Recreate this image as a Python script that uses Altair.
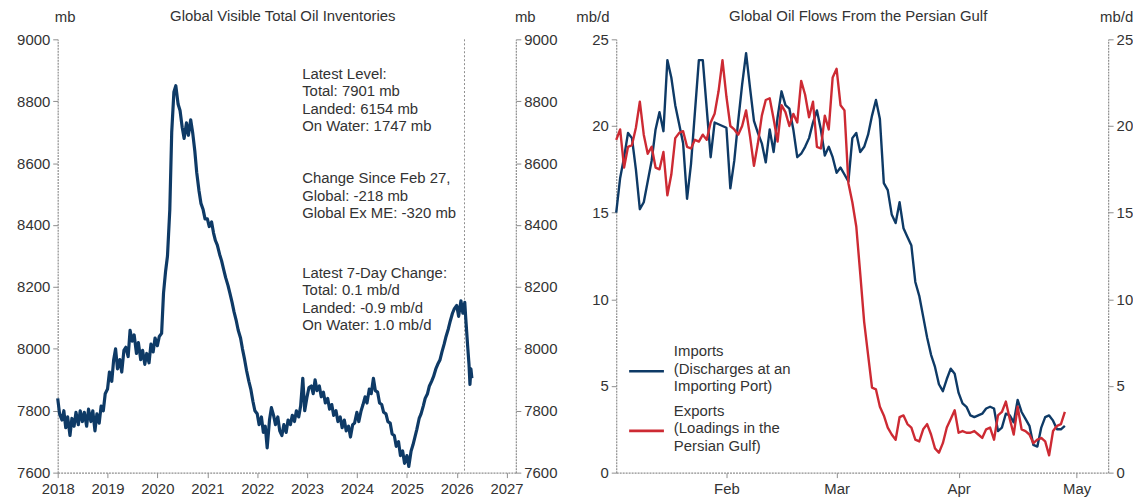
import altair as alt
import pandas as pd

FONT = "Liberation Sans"
NAVY = "#0e3a66"
RED = "#cd2a33"
GREY = "#8e8e8e"
TXT = "#333333"

# ---------------- Left panel: Global visible total oil inventories (mb) ----------------
# semi-monthly readings (1st and 15th of each month)
inv_2018 = [7840, 7790, 7770, 7800, 7745, 7780, 7720, 7775, 7750, 7795, 7755, 7800,
            7765, 7795, 7750, 7805, 7765, 7800, 7735, 7790, 7760, 7815, 7800, 7855]
inv_2019 = [7870, 7925, 7895, 7965, 8000, 7935, 7965, 7925, 7995, 8005, 7975, 8060,
            8025, 8045, 7985, 8020, 7965, 7995, 7950, 7985, 7955, 8015, 7990, 8035]
inv_2020 = [8010, 8040, 8050, 8180, 8250, 8300, 8450, 8700, 8830, 8850, 8790, 8770,
            8715, 8680, 8730, 8690, 8740, 8700, 8640, 8570, 8510, 8470, 8450, 8420]
inv_2021 = [8420, 8395, 8410, 8375, 8350, 8335, 8305, 8285, 8255, 8230, 8205, 8180,
            8150, 8120, 8090, 8060, 8035, 8000, 7965, 7930, 7895, 7870, 7830, 7800]
inv_2022 = [7790, 7755, 7780, 7730, 7750, 7680, 7770, 7810, 7785, 7755, 7780, 7735,
            7720, 7755, 7730, 7770, 7755, 7785, 7765, 7800, 7780, 7815, 7905, 7800]
inv_2023 = [7845, 7875, 7880, 7855, 7900, 7865, 7880, 7845, 7860, 7825, 7840, 7805,
            7820, 7785, 7800, 7765, 7780, 7745, 7770, 7735, 7750, 7715, 7755, 7760]
inv_2024 = [7795, 7765, 7800, 7820, 7845, 7825, 7870, 7855, 7905, 7865, 7860, 7825,
            7820, 7795, 7790, 7765, 7760, 7725, 7720, 7685, 7700, 7655, 7670, 7630]
inv_2025 = [7655, 7620, 7670, 7690, 7715, 7740, 7775, 7790, 7815, 7840, 7855, 7880,
            7895, 7910, 7935, 7950, 7965, 7990, 8015, 8040, 8065, 8090, 8115, 8130]
inv_2026_dates = ["2026-01-01", "2026-01-15", "2026-02-01", "2026-02-15", "2026-03-01",
                  "2026-03-08", "2026-03-15", "2026-03-22", "2026-04-01", "2026-04-08",
                  "2026-04-15", "2026-04-22"]
inv_2026 = [8140, 8105, 8155, 8115, 8150, 8100, 8055, 8010, 7950, 7885, 7935, 7905]

marker_date = ["2026-02-27"]
inv_years = list(range(2018, 2028))
inv_ticks = list(range(7600, 9001, 200))

ann_level = ["Latest Level:", "Total: 7901 mb", "Landed: 6154 mb", "On Water: 1747 mb"]
ann_change = ["Change Since Feb 27,", "Global: -218 mb", "Global Ex ME: -320 mb"]
ann_7day = ["Latest 7-Day Change:", "Total: 0.1 mb/d", "Landed: -0.9 mb/d", "On Water: 1.0 mb/d"]

# ---------------- Right panel: Global oil flows from the Persian Gulf (mb/d) ----------------
flow_start = "2026-01-04"
imports_jan = [15.0, 17.0, 18.2, 19.6, 19.3, 17.5, 15.2, 15.6, 16.8, 18.0, 19.8, 20.8, 19.7, 23.8,
               22.8, 21.2, 20.1, 19.0, 15.8, 17.8, 20.8, 23.8, 23.8, 21.0, 18.2, 20.2, 20.1, 20.0]
imports_feb = [19.9, 16.4, 18.0, 20.3, 22.4, 24.2, 22.2, 20.3, 19.6, 19.0, 17.9, 19.8, 18.5, 20.5,
               22.0, 21.2, 21.0, 19.8, 18.2, 18.4, 18.8, 19.3, 20.2, 20.9, 19.8, 18.3, 18.8, 18.2]
imports_mar = [17.3, 17.6, 17.2, 16.8, 19.3, 19.6, 18.5, 18.8, 19.5, 20.6, 21.5, 20.4, 16.7, 16.3,
               14.9, 14.4, 15.6, 14.1, 13.6, 13.1, 11.0, 10.2, 9.0, 7.8, 6.8, 6.1, 5.1, 4.7, 5.4,
               6.0, 5.7]
imports_apr = [4.6, 4.0, 3.8, 3.3, 3.2, 3.3, 3.4, 3.7, 3.8, 3.7, 2.4, 2.6, 3.4, 3.3, 2.9, 4.2,
               3.5, 3.1, 2.7, 1.6, 1.5, 2.6, 3.2, 3.3, 3.0, 2.5, 2.5, 2.7]
exports_jan = [19.2, 19.8, 17.6, 18.8, 18.9, 19.9, 21.4, 19.5, 18.4, 18.8, 17.6, 17.5, 18.5, 16.0,
               17.2, 19.3, 19.6, 19.7, 18.8, 18.7, 19.2, 19.1, 19.5, 19.2, 20.2, 20.7, 22.0, 23.8]
exports_feb = [21.7, 20.0, 19.8, 19.5, 20.0, 20.9, 19.4, 17.7, 19.0, 20.6, 21.5, 21.6, 20.4, 19.1,
               21.2, 20.8, 20.0, 20.7, 20.2, 22.6, 21.8, 20.5, 21.4, 18.8, 18.7, 20.6, 19.8, 22.8]
exports_mar = [23.3, 21.2, 20.9, 16.7, 15.6, 14.2, 11.5, 8.7, 6.8, 4.9, 4.8, 3.8, 3.3, 2.6, 2.2,
               1.9, 3.2, 3.3, 2.8, 2.6, 1.9, 1.8, 2.5, 2.8, 2.2, 1.4, 1.15, 1.7, 2.6, 3.1, 3.6]
exports_apr = [2.3, 2.4, 2.3, 2.3, 2.4, 2.2, 2.0, 2.5, 2.6, 1.9, 3.3, 3.5, 4.1, 3.1, 2.2, 3.8,
               2.5, 2.4, 2.2, 1.7, 1.9, 2.0, 1.8, 1.0, 2.4, 2.7, 2.8, 3.5]
series_names = ["Imports", "Exports"]
legend_texts = [["Imports", "(Discharges at an", "Importing Port)"],
                ["Exports", "(Loadings in the", "Persian Gulf)"]]
flow_months = [2, 3, 4, 5]
flow_ticks = [0, 5, 10, 15, 20, 25]

# ---------------- tables ----------------
semi = pd.date_range("2018-01-01", periods=192, freq="SMS")
inv_dates = [d.strftime("%Y-%m-%dT00:00:00") for d in semi] + [d + "T00:00:00" for d in inv_2026_dates]
inv_vals = inv_2018 + inv_2019 + inv_2020 + inv_2021 + inv_2022 + inv_2023 + inv_2024 + inv_2025 + inv_2026
inv_df = pd.DataFrame({"date": inv_dates, "value": inv_vals})
mark_df = pd.DataFrame({"date": [d + "T00:00:00" for d in marker_date]})

imports = imports_jan + imports_feb + imports_mar + imports_apr
exports = exports_jan + exports_feb + exports_mar + exports_apr
fd = [d.strftime("%Y-%m-%dT00:00:00") for d in pd.date_range(flow_start, periods=len(imports), freq="D")]
flows_df = pd.DataFrame({
    "date": fd + fd,
    "value": imports + exports,
    "series": [series_names[0]] * len(imports) + [series_names[1]] * len(exports),
})

LW, LH = 461, 436
RW, RH = 495, 436


def dt(y, m, d):
    return alt.DateTime(year=y, month=m, date=d)


def yaxis(orient, title, tx, vals):
    return alt.Axis(orient=orient, values=vals, format="d", title=title, titleAngle=0, titleX=tx,
                    titleY=-23, titleAlign="center", titleBaseline="middle", labelPadding=3, grid=False)


def text_layer(lines, px, py):
    return alt.Chart(pd.DataFrame({"t": ["\n".join(lines)]})).mark_text(
        align="left", baseline="top", lineBreak="\n", font=FONT, fontSize=15, color=TXT, lineHeight=17.5
    ).encode(x=alt.value(px), y=alt.value(py), text="t:N")


def title_layer(txt, w):
    return alt.Chart(pd.DataFrame({"t": [txt]})).mark_text(
        align="center", baseline="middle", font=FONT, fontSize=15, color=TXT
    ).encode(x=alt.value(w / 2 - 4), y=alt.value(-23), text="t:N")


# ---------------- left chart ----------------
xl = alt.X("date:T", title=None,
           scale=alt.Scale(domain=[dt(2018, 1, 1), dt(2027, 3, 10)]),
           axis=alt.Axis(values=[dt(y, 1, 1) for y in inv_years], format="%Y", labelPadding=4,
                         labelFlush=False, grid=False))
yl_scale = alt.Scale(domain=[7600, 9000], nice=False, zero=False)

inv_line = alt.Chart(inv_df).mark_line(color=NAVY, strokeWidth=3.2, strokeJoin="round").encode(
    x=xl, y=alt.Y("value:Q", scale=yl_scale, axis=yaxis("left", "mb", 7, inv_ticks)))
inv_right = alt.Chart(inv_df).mark_line(strokeOpacity=0).encode(
    x=xl, y=alt.Y("value:Q", scale=yl_scale, axis=yaxis("right", "mb", 9, inv_ticks)))
inv_rule = alt.Chart(mark_df).mark_rule(color=GREY, strokeDash=[2, 2], strokeWidth=1).encode(x=xl)

left = alt.layer(
    inv_rule, inv_line, inv_right,
    text_layer(ann_level, 246, 28),
    text_layer(ann_change, 246, 133),
    text_layer(ann_7day, 246, 228),
    title_layer("Global Visible Total Oil Inventories", LW),
).resolve_axis(y="independent").properties(width=LW, height=LH)

# ---------------- right chart ----------------
xr = alt.X("date:T", title=None,
           scale=alt.Scale(domain=[dt(2026, 1, 4), dt(2026, 5, 9)]),
           axis=alt.Axis(values=[dt(2026, m, 1) for m in flow_months], format="%b", labelPadding=4,
                         labelFlush=False, grid=False))
yr_scale = alt.Scale(domain=[0, 25], nice=False)
col = alt.Color("series:N", scale=alt.Scale(domain=series_names, range=[NAVY, RED]), legend=None)

flow_lines = alt.Chart(flows_df).mark_line(strokeWidth=2.4, strokeJoin="round").encode(
    x=xr, y=alt.Y("value:Q", scale=yr_scale, axis=yaxis("left", "mb/d", -24, flow_ticks)),
    color=col, order=alt.Order("series:N", sort="descending"))
flow_right = alt.Chart(flows_df).mark_line(strokeOpacity=0).encode(
    x=xr, y=alt.Y("value:Q", scale=yr_scale, axis=yaxis("right", "mb/d", 8, flow_ticks)),
    detail="series:N")

leg_df = pd.DataFrame({"series": series_names})
leg_imp = alt.Chart(leg_df.iloc[[0]]).mark_rule(strokeWidth=2.6).encode(
    x=alt.value(13), x2=alt.value(48), y=alt.value(334), color=col)
leg_exp = alt.Chart(leg_df.iloc[[1]]).mark_rule(strokeWidth=2.6).encode(
    x=alt.value(13), x2=alt.value(48), y=alt.value(394), color=col)

right = alt.layer(
    flow_lines, flow_right, leg_imp, leg_exp,
    text_layer(legend_texts[0], 58, 307),
    text_layer(legend_texts[1], 58, 367),
    title_layer("Global Oil Flows From the Persian Gulf", RW),
).resolve_axis(y="independent").properties(width=RW, height=RH)

chart = alt.hconcat(left, right, spacing=18).properties(
    padding={"left": 8, "top": 0, "right": 0, "bottom": 0}
).configure_axis(
    domainColor=GREY, domainWidth=1.2, domainDash=[2, 1], tickColor=GREY, tickSize=5,
    labelFont=FONT, labelFontSize=15, labelColor=TXT,
    titleFont=FONT, titleFontSize=15, titleColor=TXT, titleFontWeight="normal",
).configure_view(stroke=None)

chart.save("out.html", embed_options={"renderer": "svg", "actions": False})
